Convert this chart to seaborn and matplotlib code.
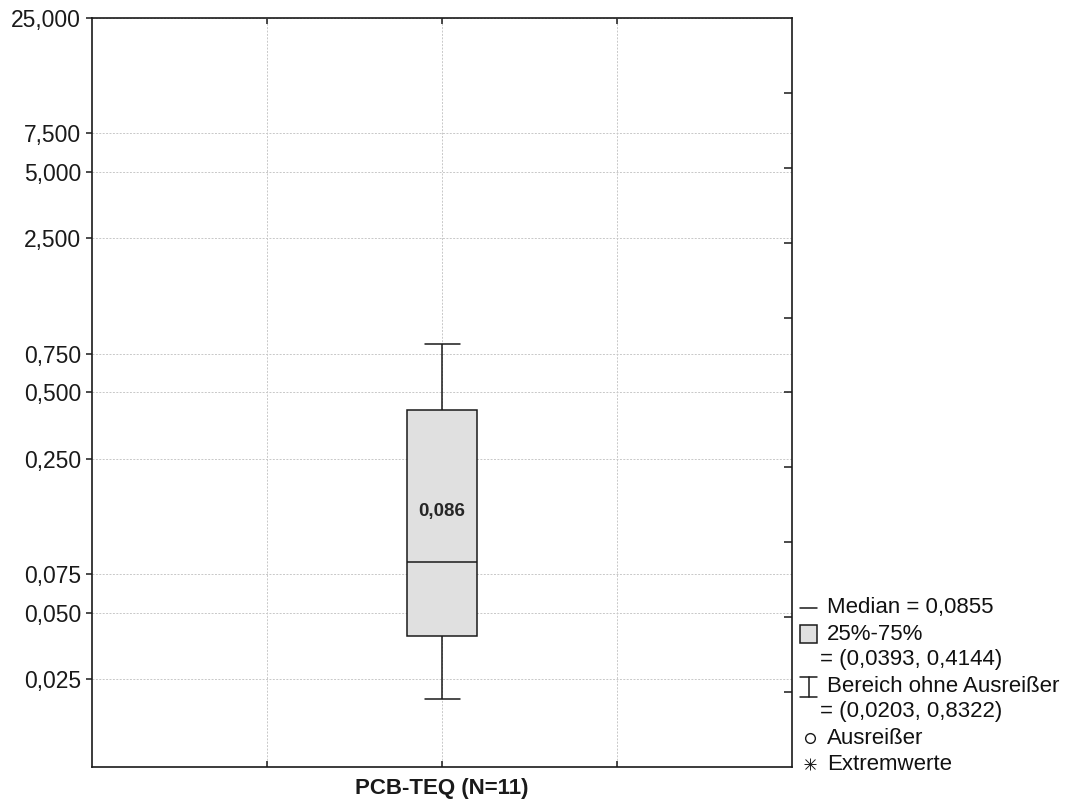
import matplotlib
matplotlib.use("Agg")
import matplotlib.pyplot as plt
import seaborn as sn
import pandas as pd
from matplotlib.lines import Line2D
from matplotlib.patches import Rectangle
from matplotlib.ticker import FixedLocator, FuncFormatter, NullLocator

# five-number summary (whisker min, Q1, median, Q3, whisker max), from the legend
group = 'PCB-TEQ (N=11)'
stat_vals = [0.0203, 0.0393, 0.0855, 0.4144, 0.8322]
median_label = '0,086'

ytick_vals = [0.025, 0.05, 0.075, 0.25, 0.5, 0.75, 2.5, 5, 7.5, 25]

legend_texts = ['Median = 0,0855', '25%-75%', '= (0,0393, 0,4144)',
                'Bereich ohne Ausreißer', '= (0,0203, 0,8322)',
                'Ausreißer', 'Extremwerte']

sn.set_style('white')
plt.rcParams['font.family'] = ['Liberation Sans', 'DejaVu Sans']

df = pd.DataFrame({'grp': [group] * len(stat_vals), 'val': stat_vals})

W, H = 1073, 808
fig = plt.figure(figsize=(W / 100, H / 100), dpi=100)
ax = fig.add_axes([92 / W, 1 - 767 / H, 700 / W, 749 / H])

sn.boxplot(data=df, x='grp', y='val', log_scale=True, whis=(0, 100),
           width=0.4, color='#e0e0e0', linecolor='#1a1a1a', linewidth=1.1,
           saturation=1, ax=ax)

ax.set_xlim(-2, 2)
ax.set_ylim(0.01, 25)
ax.set_xlabel('')
ax.set_ylabel('')

ax.yaxis.set_major_locator(FixedLocator(ytick_vals))
ax.yaxis.set_minor_locator(NullLocator())
ax.yaxis.set_major_formatter(FuncFormatter(lambda v, p: f'{v:.3f}'.replace('.', ',')))
ax.set_xticks([-1, 0, 1])
ax.set_xticklabels(['', group, ''], fontweight='bold', fontsize=16)

ax.tick_params(axis='y', which='both', left=True, right=False, direction='out',
               length=4, width=1.1, labelsize=16.5, pad=4, colors='#1a1a1a')
ax.tick_params(axis='x', bottom=True, top=True, direction='in', length=4,
               width=1.1, pad=8, colors='#1a1a1a')

ax.grid(True, color='#c8c8c8', linestyle=(0, (2, 1.5)), linewidth=0.7)
ax.set_axisbelow(True)
for s in ax.spines.values():
    s.set_visible(True)
    s.set_color('#1a1a1a')
    s.set_linewidth(1.2)

# unlabeled inner ticks on the right spine
ax2 = ax.twinx()
ax2.set_ylim(0, 10)
ax2.set_yticks(range(1, 10))
ax2.tick_params(axis='y', direction='in', length=6, width=1.1,
                labelright=False, colors='#1a1a1a')
for s in ax2.spines.values():
    s.set_visible(False)

ax.text(0, 0.145, median_label, ha='center', va='center',
        fontweight='bold', fontsize=13.5)

# legend drawn by hand on the figure
def fx(x):
    return x / W

def fy(y):
    return 1 - y / H

lc = '#1a1a1a'
rows_y = [608, 634, 660, 686, 712, 738, 764]
rows_x = [827, 827, 820, 827, 820, 827, 827]
for t, xx, yy in zip(legend_texts, rows_x, rows_y):
    fig.text(fx(xx), fy(yy), t, ha='left', va='center', fontsize=16, color='#111111')

fig.add_artist(Line2D([fx(800), fx(817)], [fy(608), fy(608)], color=lc, lw=1.1))
fig.add_artist(Rectangle((fx(800), fy(643)), 17 / W, 18 / H, transform=fig.transFigure,
                         facecolor='#e0e0e0', edgecolor=lc, lw=1.1))
fig.add_artist(Line2D([fx(808.5), fx(808.5)], [fy(677), fy(697)], color=lc, lw=1.1))
fig.add_artist(Line2D([fx(800), fx(817)], [fy(677), fy(677)], color=lc, lw=1.1))
fig.add_artist(Line2D([fx(800), fx(817)], [fy(697), fy(697)], color=lc, lw=1.1))
fig.add_artist(Line2D([fx(810)], [fy(738)], marker='o', ms=7, mfc='none', mec=lc, mew=1.0))
fig.add_artist(Line2D([fx(810)], [fy(764)], marker='+', ms=9, mec=lc, mew=0.7))
fig.add_artist(Line2D([fx(810)], [fy(764)], marker='x', ms=7, mec=lc, mew=0.7))

fig.savefig('out.png', dpi=100)
